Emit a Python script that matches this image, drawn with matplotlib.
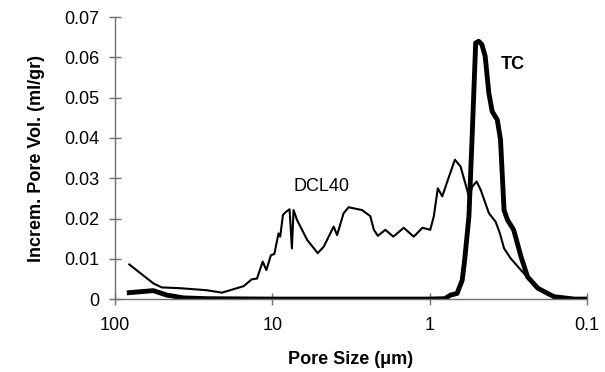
import matplotlib
matplotlib.use("Agg")
import matplotlib.pyplot as plt
from matplotlib.ticker import FixedLocator, FixedFormatter, NullLocator

plt.rcParams['font.family'] = ['Liberation Sans', 'DejaVu Sans']

# DCL40 (thin line)
dcl_x = [81.1, 57.0, 50.4, 38.5, 26.1, 20.9, 15.2, 13.5, 12.5, 11.5, 10.9, 10.2, 9.7,
         9.12, 8.9, 8.55, 8.15, 7.76, 7.5, 7.32, 6.97, 6.0, 5.14, 4.71, 4.07, 3.87,
         3.52, 3.27, 2.69, 2.38, 2.26, 2.13, 1.91, 1.70, 1.46, 1.26, 1.11, 0.99,
         0.94, 0.886, 0.83, 0.771, 0.69, 0.635, 0.562, 0.535, 0.502, 0.473, 0.419,
         0.380, 0.357, 0.336, 0.305, 0.257, 0.217, 0.178, 0.146, 0.120, 0.1]
dcl_y = [0.0086, 0.0039, 0.0029, 0.0027, 0.0022, 0.0016, 0.0032, 0.0049, 0.0051,
         0.0093, 0.0072, 0.0109, 0.0112, 0.0163, 0.0155, 0.0209, 0.0217, 0.0223,
         0.0126, 0.0221, 0.0197, 0.0147, 0.0114, 0.0130, 0.0180, 0.0159, 0.0213,
         0.0228, 0.0221, 0.0206, 0.0172, 0.0157, 0.0172, 0.0155, 0.0177, 0.0155,
         0.0177, 0.0172, 0.0205, 0.0275, 0.0255, 0.0292, 0.0346, 0.0329, 0.0255,
         0.0279, 0.0292, 0.0271, 0.0213, 0.0192, 0.0163, 0.0126, 0.0101, 0.0068,
         0.0035, 0.0014, 0.0002, 0.0, 0.0]

# TC (thick line)
tc_x = [81.1, 57.0, 46.9, 36.7, 26.1, 10.0, 1.0, 0.80, 0.735, 0.668, 0.62, 0.598,
        0.562, 0.535, 0.509, 0.487, 0.465, 0.443, 0.420, 0.40, 0.371, 0.354, 0.336,
        0.320, 0.292, 0.262, 0.238, 0.205, 0.162, 0.120, 0.1]
tc_y = [0.0016, 0.0021, 0.0010, 0.0003, 0.0001, 0.0, 0.0, 0.0001, 0.0010, 0.0014,
        0.0047, 0.0097, 0.0205, 0.0412, 0.0636, 0.0640, 0.0632, 0.0603, 0.0512,
        0.0466, 0.0445, 0.0396, 0.0221, 0.0197, 0.0172, 0.0105, 0.0055, 0.0027,
        0.0006, 0.0, 0.0]

x_ticks = [100, 10, 1, 0.1]
x_tick_labels = ['100', '10', '1', '0.1']
y_ticks = [0, 0.01, 0.02, 0.03, 0.04, 0.05, 0.06, 0.07]
y_tick_labels = ['0', '0.01', '0.02', '0.03', '0.04', '0.05', '0.06', '0.07']

fig = plt.figure(figsize=(6.05, 3.72), dpi=100)
ax = fig.add_axes([0.190, 0.196, 0.780, 0.758])

ax.plot(dcl_x, dcl_y, color='black', lw=1.5, solid_joinstyle='round')
ax.plot(tc_x, tc_y, color='black', lw=3.5, solid_joinstyle='round')

ax.set_xscale('log')
ax.set_xlim(100, 0.1)
ax.set_ylim(0, 0.07)
ax.xaxis.set_major_locator(FixedLocator(x_ticks))
ax.xaxis.set_major_formatter(FixedFormatter(x_tick_labels))
ax.xaxis.set_minor_locator(NullLocator())
ax.yaxis.set_major_locator(FixedLocator(y_ticks))
ax.yaxis.set_major_formatter(FixedFormatter(y_tick_labels))

for s in ['top', 'right']:
    ax.spines[s].set_visible(False)
for s in ['left', 'bottom']:
    ax.spines[s].set_color('#707070')
    ax.spines[s].set_linewidth(1.0)

ax.tick_params(axis='both', direction='inout', length=8, width=1.0,
               color='#707070', labelsize=13, labelcolor='black')
ax.tick_params(axis='x', pad=9)
ax.tick_params(axis='y', pad=7)

ax.set_xlabel('Pore Size (\u03bcm)', fontsize=13, fontweight='bold', labelpad=12)
ax.set_ylabel('Increm. Pore Vol. (ml/gr)', fontsize=13, fontweight='bold', labelpad=14)

ax.text(4.87, 0.0279, 'DCL40', fontsize=13, ha='center', va='center')
ax.text(0.296, 0.0582, 'TC', fontsize=13, fontweight='bold', ha='center', va='center')

fig.savefig('out.png', dpi=100)
